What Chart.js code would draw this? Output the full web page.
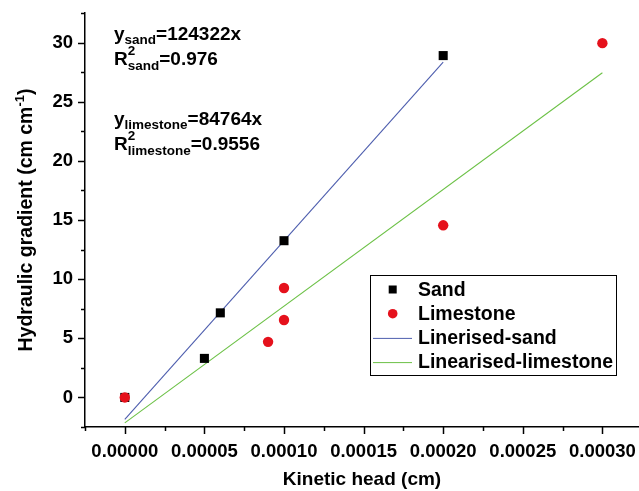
<!DOCTYPE html>
<html>
<head>
<meta charset="utf-8">
<script src="https://cdn.jsdelivr.net/npm/chart.js@4/dist/chart.umd.min.js"></script>
<style>
html,body{margin:0;padding:0;background:#fff;}
#wrap{position:relative;width:639px;height:491px;}
</style>
</head>
<body>
<div id="wrap"><canvas id="c" width="639" height="491"></canvas></div>
<script>
// ---- data ----
const sandX = [0, 0.00005, 0.00006, 0.0001, 0.0002];
const sandY = [0, 3.3, 7.15, 13.25, 28.9];
const limeX = [0, 0.00009, 0.0001, 0.0001, 0.0002, 0.0003];
const limeY = [0, 4.7, 6.55, 9.25, 14.55, 29.95];
const fitSandX = [0, 0.0002];
const fitSandY = [-1.85, 28.35];
const fitLimeX = [0, 0.0003];
const fitLimeY = [-2.15, 27.45];
const xTicks = [0, 0.00005, 0.0001, 0.00015, 0.0002, 0.00025, 0.0003];
const yTicks = [0, 5, 10, 15, 20, 25, 30];
const seriesNames = ['Sand', 'Limestone', 'Linerised-sand', 'Linearised-limestone'];
const xTitle = 'Kinetic head (cm)';
const yTitleMain = 'Hydraulic gradient (cm cm';
const yTitleSup = '-1';
const yTitleEnd = ')';

const FONT = '"Liberation Sans", Arial, sans-serif';
const BLUE = '#4e5eae';
const GREEN = '#6cc146';
const RED = '#e5111c';

const pts = (xs, ys) => xs.map((x, i) => ({x: x, y: ys[i]}));

// minor+major ticks, y title, annotations, legend
const extras = {
  id: 'extras',
  afterDraw(chart) {
    const ctx = chart.ctx;
    const xs = chart.scales.x, ys = chart.scales.y;
    const ca = chart.chartArea;
    ctx.save();
    ctx.strokeStyle = '#000';
    ctx.lineWidth = 1.5;
    // x ticks
    for (let k = -1; k <= 13; k++) {
      const v = k * 0.000025;
      if (v < xs.min - 1e-12 || v > xs.max + 1e-12) continue;
      const px = Math.round(xs.getPixelForValue(v)) + 0.5;
      const len = (k % 2 === 0) ? 7 : 4;
      ctx.beginPath(); ctx.moveTo(px, ca.bottom); ctx.lineTo(px, ca.bottom + len); ctx.stroke();
    }
    // y ticks
    for (let k = -1; k <= 13; k++) {
      const v = k * 2.5;
      if (v < ys.min - 1e-9 || v > ys.max + 1e-9) continue;
      const py = Math.round(ys.getPixelForValue(v)) + 0.5;
      const len = (k % 2 === 0) ? 7 : 4;
      ctx.beginPath(); ctx.moveTo(ca.left, py); ctx.lineTo(ca.left - len, py); ctx.stroke();
    }
    ctx.fillStyle = '#000';
    // y title with superscript
    ctx.save();
    ctx.translate(32, (ca.top + ca.bottom) / 2);
    ctx.rotate(-Math.PI / 2);
    ctx.textBaseline = 'alphabetic';
    ctx.textAlign = 'left';
    const fMain = 'bold 19.5px ' + FONT, fSup = 'bold 13px ' + FONT;
    ctx.font = fMain; const w1 = ctx.measureText(yTitleMain).width; const w3 = ctx.measureText(yTitleEnd).width;
    ctx.font = fSup; const w2 = ctx.measureText(yTitleSup).width;
    let x0 = -(w1 + w2 + w3) / 2;
    ctx.font = fMain; ctx.fillText(yTitleMain, x0, 0);
    ctx.font = fSup; ctx.fillText(yTitleSup, x0 + w1, -8.5);
    ctx.font = fMain; ctx.fillText(yTitleEnd, x0 + w1 + w2, 0);
    ctx.restore();

    // annotations
    const big = 'bold 19px ' + FONT, small = 'bold 13.5px ' + FONT;
    function eq(xStart, base, head, sub, sup, tail) {
      ctx.textAlign = 'left'; ctx.textBaseline = 'alphabetic';
      ctx.font = big; ctx.fillText(head, xStart, base);
      let x = xStart + ctx.measureText(head).width;
      ctx.font = small;
      ctx.fillText(sub, x, base + 4.8);
      let w = ctx.measureText(sub).width;
      if (sup) { ctx.fillText(sup, x, base - 10.5); w = Math.max(w, ctx.measureText(sup).width); }
      ctx.font = big; ctx.fillText(tail, x + w, base);
    }
    const ax = ca.left + 29;
    eq(ax, 39.5, 'y', 'sand', null, '=124322x');
    eq(ax, 65, 'R', 'sand', '2', '=0.976');
    eq(ax, 124.5, 'y', 'limestone', null, '=84764x');
    eq(ax, 150, 'R', 'limestone', '2', '=0.9556');

    // legend box
    const lx = 370.5, ly = 275.5, lw = 246, lh = 100;
    ctx.lineWidth = 1;
    ctx.strokeStyle = '#000';
    ctx.strokeRect(lx, ly, lw, lh);
    const rowY = [289.5, 313.7, 337.9, 362.1];
    const symX = 392.7, textX = 418;
    ctx.font = 'bold 19.5px ' + FONT;
    ctx.textBaseline = 'middle';
    chart.data.datasets.forEach((ds, i) => {
      const cy = rowY[i];
      if (ds.showLine) {
        ctx.strokeStyle = ds.borderColor; ctx.lineWidth = 1;
        ctx.beginPath(); ctx.moveTo(373, cy + 0.5); ctx.lineTo(412, cy + 0.5); ctx.stroke();
      } else if (ds.pointStyle === 'rect') {
        ctx.fillStyle = ds.backgroundColor; ctx.fillRect(symX - 4, cy - 4, 8, 8);
      } else {
        ctx.fillStyle = ds.backgroundColor; ctx.beginPath(); ctx.arc(symX, cy, 4.8, 0, Math.PI * 2); ctx.fill();
      }
      ctx.fillStyle = '#000';
      ctx.fillText(ds.label, textX, cy + 1);
    });
    ctx.restore();
  }
};

new Chart(document.getElementById('c'), {
  type: 'scatter',
  data: {
    datasets: [
      {label: seriesNames[0], data: pts(sandX, sandY), pointStyle: 'rect', pointRadius: 6.4, backgroundColor: '#000', borderWidth: 0, order: 1},
      {label: seriesNames[1], data: pts(limeX, limeY), pointStyle: 'circle', pointRadius: 5.2, backgroundColor: RED, borderWidth: 0, order: 0},
      {label: seriesNames[2], data: pts(fitSandX, fitSandY), showLine: true, pointRadius: 0, borderColor: BLUE, borderWidth: 1.1, backgroundColor: BLUE, order: 2},
      {label: seriesNames[3], data: pts(fitLimeX, fitLimeY), showLine: true, pointRadius: 0, borderColor: GREEN, borderWidth: 1.1, backgroundColor: GREEN, order: 3}
    ]
  },
  options: {
    responsive: false,
    animation: false,
    events: [],
    layout: {autoPadding: false, padding: {top: 13, right: 0, left: 0, bottom: 0}},
    plugins: {legend: {display: false}, tooltip: {enabled: false}},
    scales: {
      x: {
        type: 'linear', min: -0.000025, max: 0.000323,
        afterBuildTicks: s => { s.ticks = xTicks.map(v => ({value: v})); },
        afterFit: s => { s.height = 64; s.paddingLeft = 0; s.paddingRight = 0; },
        grid: {display: true, drawOnChartArea: false, drawTicks: false},
        border: {display: true, color: '#000', width: 1.5},
        ticks: {color: '#000', padding: 14, maxRotation: 0, autoSkip: false,
                font: {family: FONT, size: 18.5, weight: 'bold'},
                callback: v => Number(v).toFixed(5)},
        title: {display: true, text: xTitle, color: '#000', padding: {top: 0, bottom: 0},
                font: {family: FONT, size: 19, weight: 'bold'}}
      },
      y: {
        type: 'linear', min: -2.5, max: 32.5,
        afterBuildTicks: s => { s.ticks = yTicks.map(v => ({value: v})); },
        afterFit: s => { s.width = 85; s.paddingTop = 0; s.paddingBottom = 0; },
        grid: {display: true, drawOnChartArea: false, drawTicks: false},
        border: {display: true, color: '#000', width: 1.5},
        ticks: {color: '#000', padding: 12, autoSkip: false,
                font: {family: FONT, size: 18.5, weight: 'bold'},
                callback: v => String(v)}
      }
    }
  },
  plugins: [extras]
});
</script>
</body>
</html>
